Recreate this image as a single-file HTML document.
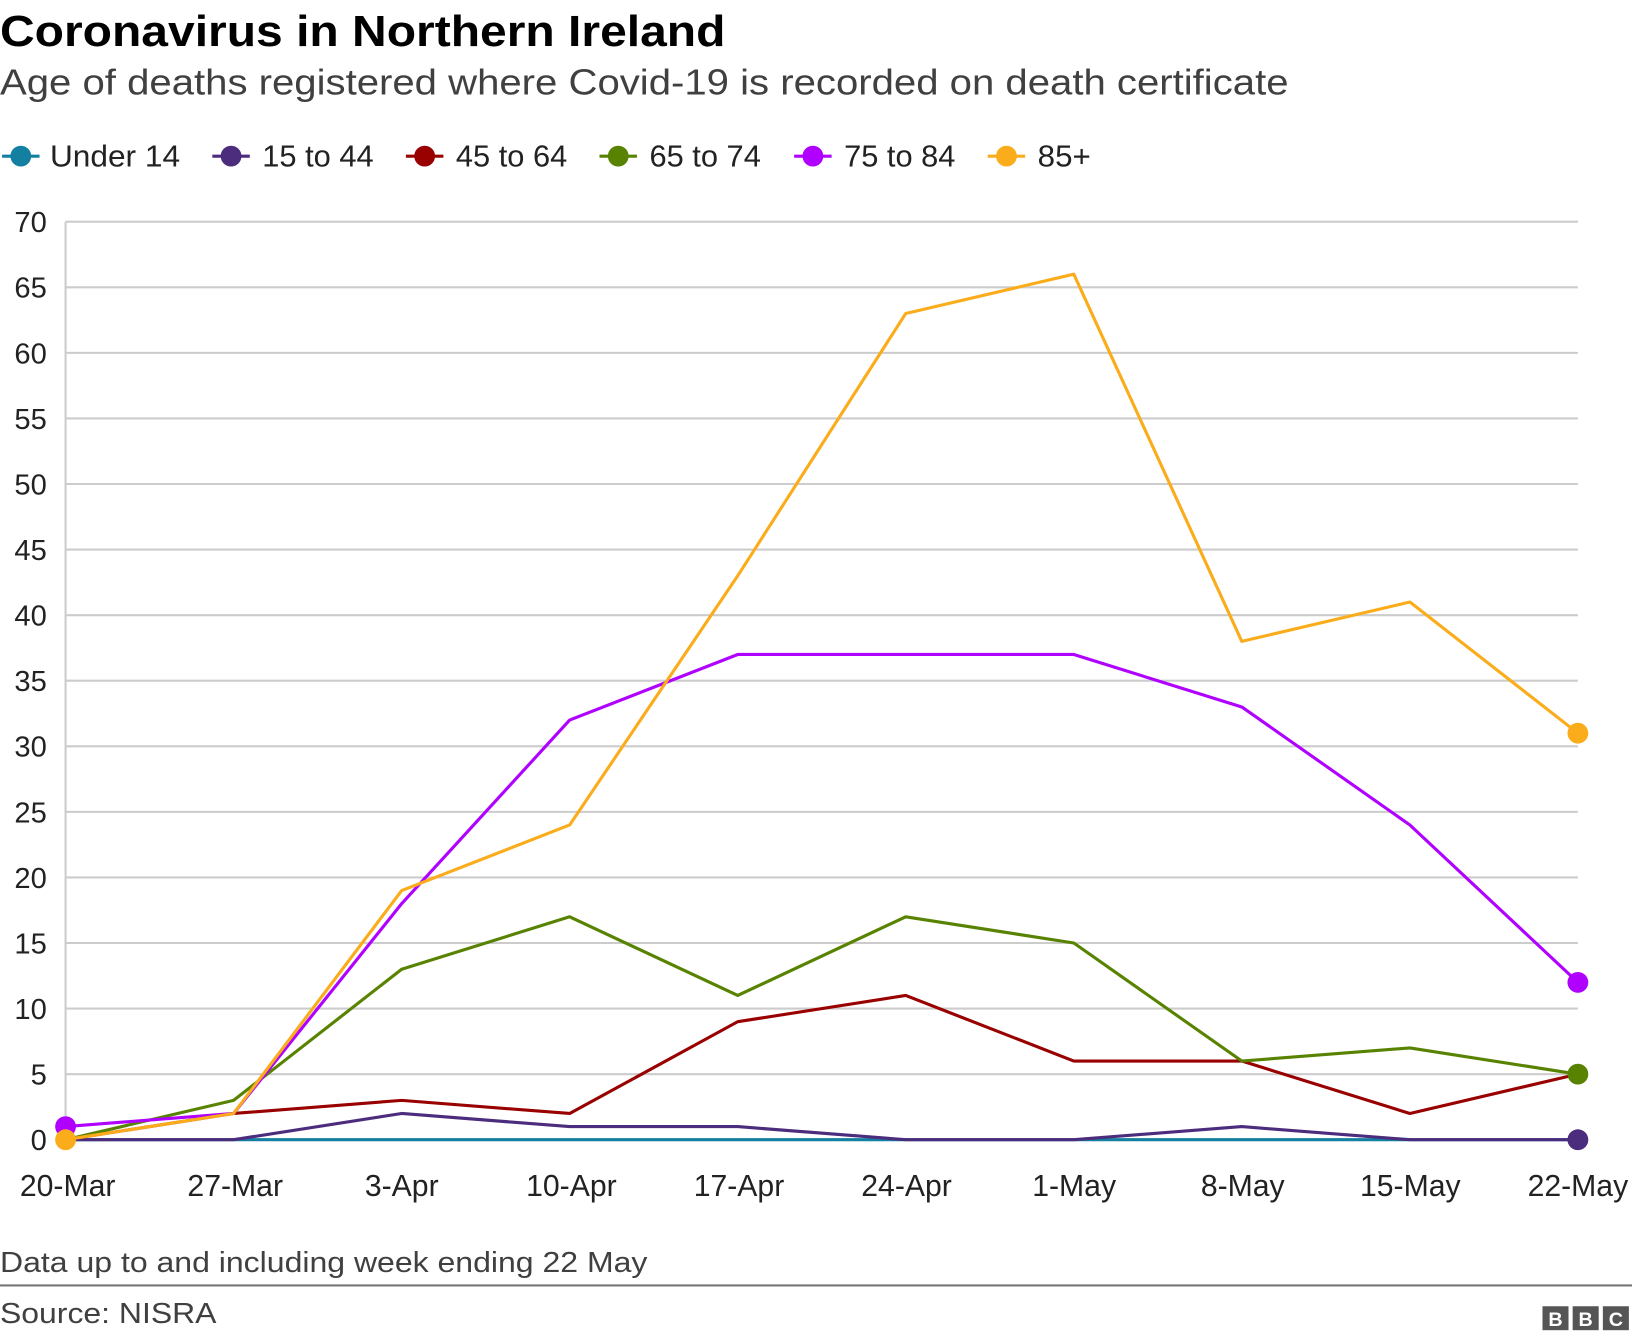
<!DOCTYPE html>
<html><head><meta charset="utf-8"><style>
html,body{margin:0;padding:0;background:#fff}
svg{display:block}
text{font-family:"Liberation Sans",Arial,sans-serif}
</style></head><body>
<svg width="1632" height="1340" viewBox="0 0 1568 1287.4" xmlns="http://www.w3.org/2000/svg">
<rect width="1568" height="1288" fill="#fff"/>
<text x="0" y="44" font-size="42" font-weight="bold" fill="#000" textLength="697" lengthAdjust="spacingAndGlyphs">Coronavirus in Northern Ireland</text>
<text x="0" y="91" font-size="35" fill="#404040" textLength="1238" lengthAdjust="spacingAndGlyphs">Age of deaths registered where Covid-19 is recorded on death certificate</text>
<g font-size="29" fill="#222">
<line x1="2" y1="150" x2="38" y2="150" stroke="#1380a1" stroke-width="3"/><circle cx="20" cy="150" r="10" fill="#1380a1"/><text x="48" y="160" textLength="125" lengthAdjust="spacingAndGlyphs">Under 14</text>
<line x1="204" y1="150" x2="240" y2="150" stroke="#4c2c7d" stroke-width="3"/><circle cx="222" cy="150" r="10" fill="#4c2c7d"/><text x="252" y="160" textLength="107" lengthAdjust="spacingAndGlyphs">15 to 44</text>
<line x1="390" y1="150" x2="426" y2="150" stroke="#990000" stroke-width="3"/><circle cx="408" cy="150" r="10" fill="#990000"/><text x="438" y="160" textLength="107" lengthAdjust="spacingAndGlyphs">45 to 64</text>
<line x1="576" y1="150" x2="612" y2="150" stroke="#588300" stroke-width="3"/><circle cx="594" cy="150" r="10" fill="#588300"/><text x="624" y="160" textLength="107" lengthAdjust="spacingAndGlyphs">65 to 74</text>
<line x1="763" y1="150" x2="799" y2="150" stroke="#b000ff" stroke-width="3"/><circle cx="781" cy="150" r="10" fill="#b000ff"/><text x="811" y="160" textLength="107" lengthAdjust="spacingAndGlyphs">75 to 84</text>
<line x1="949" y1="150" x2="985" y2="150" stroke="#fbac1b" stroke-width="3"/><circle cx="967" cy="150" r="10" fill="#fbac1b"/><text x="997" y="160" textLength="51" lengthAdjust="spacingAndGlyphs">85+</text>
</g>
<g stroke="#cccccc" stroke-width="2">
<line x1="63" y1="213" x2="1516" y2="213"/><line x1="63" y1="276" x2="1516" y2="276"/><line x1="63" y1="339" x2="1516" y2="339"/><line x1="63" y1="402" x2="1516" y2="402"/><line x1="63" y1="465" x2="1516" y2="465"/><line x1="63" y1="528" x2="1516" y2="528"/><line x1="63" y1="591" x2="1516" y2="591"/><line x1="63" y1="654" x2="1516" y2="654"/><line x1="63" y1="717" x2="1516" y2="717"/><line x1="63" y1="780" x2="1516" y2="780"/><line x1="63" y1="843" x2="1516" y2="843"/><line x1="63" y1="906" x2="1516" y2="906"/><line x1="63" y1="969" x2="1516" y2="969"/><line x1="63" y1="1032" x2="1516" y2="1032"/>
<line x1="63" y1="213" x2="63" y2="1095"/>
</g>
<g font-size="28" fill="#222" text-anchor="end">
<text x="45" y="223">70</text><text x="45" y="286">65</text><text x="45" y="349">60</text><text x="45" y="412">55</text><text x="45" y="475">50</text><text x="45" y="538">45</text><text x="45" y="601">40</text><text x="45" y="664">35</text><text x="45" y="727">30</text><text x="45" y="790">25</text><text x="45" y="853">20</text><text x="45" y="916">15</text><text x="45" y="979">10</text><text x="45" y="1042">5</text><text x="45" y="1105">0</text>
</g>
<g font-size="29" fill="#222" text-anchor="middle">
<text x="65" y="1149">20-Mar</text><text x="226" y="1149">27-Mar</text><text x="386" y="1149">3-Apr</text><text x="549" y="1149">10-Apr</text><text x="710" y="1149">17-Apr</text><text x="871" y="1149">24-Apr</text><text x="1032" y="1149">1-May</text><text x="1194" y="1149">8-May</text><text x="1355" y="1149">15-May</text><text x="1516" y="1149">22-May</text>
</g>
<g fill="none" stroke-width="3" stroke-linejoin="round">
<polyline stroke="#1380a1" points="63,1095 1516,1095"/>
<polyline stroke="#4c2c7d" points="63,1095 224.4,1095 385.9,1069.8 547.3,1082.4 708.8,1082.4 870.2,1095 1031.7,1095 1193.1,1082.4 1354.6,1095 1516,1095"/>
<polyline stroke="#990000" points="63,1095 224.4,1069.8 385.9,1057.2 547.3,1069.8 708.8,981.6 870.2,956.4 1031.7,1019.4 1193.1,1019.4 1354.6,1069.8 1516,1032"/>
<polyline stroke="#588300" points="63,1095 224.4,1057.2 385.9,931.2 547.3,880.8 708.8,956.4 870.2,880.8 1031.7,906 1193.1,1019.4 1354.6,1006.8 1516,1032"/>
<polyline stroke="#b000ff" points="63,1082.4 224.4,1069.8 385.9,868.2 547.3,691.8 708.8,628.8 870.2,628.8 1031.7,628.8 1193.1,679.2 1354.6,792.6 1516,943.8"/>
<polyline stroke="#fbac1b" points="63,1095 224.4,1069.8 385.9,855.6 547.3,792.6 708.8,553.2 870.2,301.2 1031.7,263.4 1193.1,616.2 1354.6,578.4 1516,704.4"/>
</g>
<circle cx="63" cy="1082.4" r="10" fill="#b000ff"/>
<circle cx="63" cy="1095" r="10" fill="#fbac1b"/>
<circle cx="1516" cy="1095" r="10" fill="#4c2c7d"/>
<circle cx="1516" cy="1032" r="10" fill="#588300"/>
<circle cx="1516" cy="943.8" r="10" fill="#b000ff"/>
<circle cx="1516" cy="704.4" r="10" fill="#fbac1b"/>
<text x="0" y="1222" font-size="28" fill="#404040" textLength="622" lengthAdjust="spacingAndGlyphs">Data up to and including week ending 22 May</text>
<line x1="0" y1="1235" x2="1568" y2="1235" stroke="#777" stroke-width="2"/>
<text x="0" y="1271" font-size="28" fill="#404040" textLength="208" lengthAdjust="spacingAndGlyphs">Source: NISRA</text>
<g font-size="19" font-weight="bold" fill="#fff" text-anchor="middle">
<rect x="1482" y="1255" width="25" height="23" fill="#555"/><text x="1494.5" y="1274">B</text>
<rect x="1511" y="1255" width="25" height="23" fill="#555"/><text x="1523.5" y="1274">B</text>
<rect x="1540" y="1255" width="25" height="23" fill="#555"/><text x="1552.5" y="1274">C</text>
</g>
</svg>
</body></html>
